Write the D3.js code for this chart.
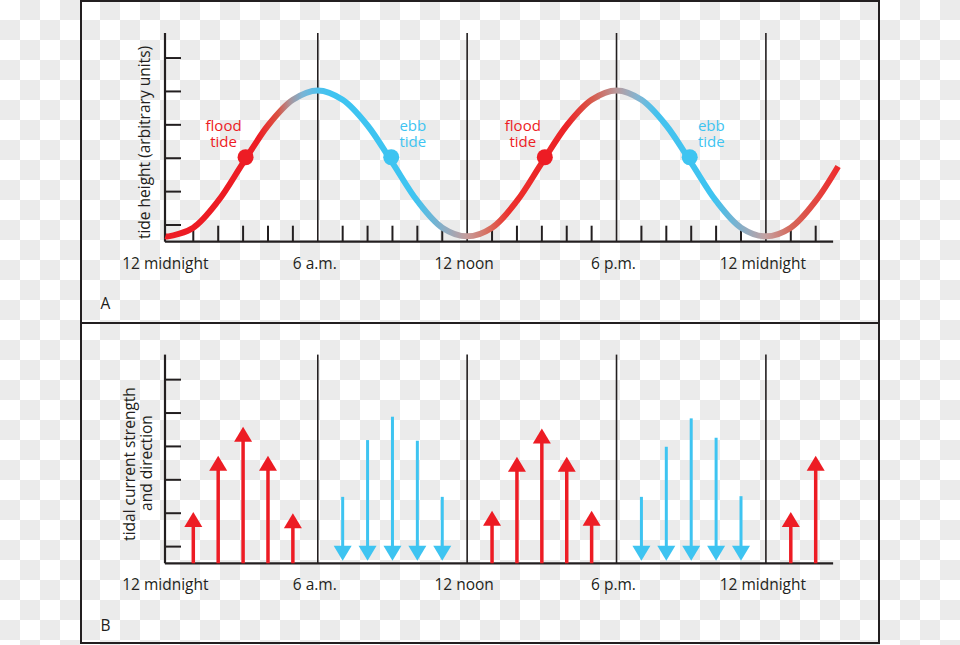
<!DOCTYPE html>
<html><head><meta charset="utf-8">
<script src="https://cdn.jsdelivr.net/npm/d3@7"></script>
<style>
html,body{margin:0;padding:0;}
body{width:960px;height:645px;background:#fff repeating-conic-gradient(#ebebeb 0 25%, #ffffff 0 50%) 0 0/40px 40px;}
svg{display:block;}
text{font-family:"Open Sans",sans-serif;}
</style></head><body>
<script>
// ---- data ----
const tideHours   = [-0.12, 0, 1, 2, 3, 4, 5, 6, 7, 8, 9, 10, 11, 12, 13, 14, 15, 16, 17, 18, 19, 20, 21, 22, 23, 24, 25, 26, 26.9];
const tideHeights = [0.17, 0.16, 0.42, 1.22, 2.36, 3.48, 4.25, 4.53, 4.25, 3.48, 2.36, 1.22, 0.42, 0.16, 0.42, 1.22, 2.36, 3.48, 4.25, 4.53, 4.25, 3.48, 2.36, 1.22, 0.42, 0.16, 0.42, 1.22, 2.25];
const markerHours   = [3.1, 8.95, 15.12, 20.94];
const markerHeights = [2.53, 2.53, 2.53, 2.53];
const markerKinds   = ["flood", "ebb", "flood", "ebb"];
const currentHours  = [1, 2, 3, 4, 5, 7, 8, 9, 10, 11, 13, 14, 15, 16, 17, 19, 20, 21, 22, 23, 25, 26];
const currentValues = [1.54, 3.22, 4.09, 3.22, 1.50, -1.99, -3.69, -4.39, -3.67, -1.99, 1.57, 3.19, 4.04, 3.19, 1.57, -1.99, -3.49, -4.34, -3.76, -2.01, 1.54, 3.22];
const timeLabelHours = [0, 6, 12, 18, 24];
const timeLabels     = ["12 midnight", "6 a.m.", "12 noon", "6 p.m.", "12 midnight"];
const sixHourLines   = [6, 12, 18, 24];
const minorHours     = [1, 2, 3, 4, 5, 7, 8, 9, 10, 11, 13, 14, 15, 16, 17, 19, 20, 21, 22, 23, 25, 26];
const yTickValues    = [0.5, 1.5, 2.5, 3.5, 4.5, 5.5];

// ---- style ----
const ink = "#231f20", red = "#ed1c24", blue = "#3ec4f1";
const fs = 15.5;
const gradStops = [
  [-0.2, "#ed1c24"], [3.6, "#ed1c24"], [4.4, "#da5444"], [4.9, "#a8959c"], [5.4, "#78b4d6"], [6.0, "#4fc0ec"], [6.6, "#3ec4f1"],
  [9.9, "#3ec4f1"], [10.9, "#7fb0cc"], [12.0, "#c79c9b"], [12.9, "#d96a5a"], [13.7, "#ec2e2b"],
  [16.0, "#ec2428"], [17.0, "#d85a4c"], [18.0, "#b9999c"], [18.9, "#80b6d4"], [19.6, "#45c2ee"],
  [21.9, "#3ec4f1"], [22.9, "#7fb0cc"], [24.0, "#c4a0a0"], [25.0, "#d6685a"], [26.9, "#ee2a2b"]
];

const svg = d3.select("body").append("svg").attr("width", 960).attr("height", 645);

const x = d3.scaleLinear().domain([0, 24]).range([168.4, 765.9]);
const axisX = d3.scaleLinear().domain([-0.14, 26.7]).range([x(-0.14), x(26.7)]);
const yA = d3.scaleLinear().domain([0, 6.25]).range([241.7, 33]);
const yB = d3.scaleLinear().domain([0, 6.25]).range([563.3, 354.6]);

// panel frames
svg.append("rect").attr("x", 81).attr("y", 1).attr("width", 798).attr("height", 322)
  .attr("fill", "none").attr("stroke", ink).attr("stroke-width", 2);
svg.append("rect").attr("x", 81).attr("y", 323).attr("width", 798).attr("height", 320)
  .attr("fill", "none").attr("stroke", ink).attr("stroke-width", 2);

function drawFrame(y, hourTicks, labelY) {
  const g = svg.append("g");
  g.selectAll("line.six").data(sixHourLines).join("line").attr("class", "six")
    .attr("x1", d => x(d)).attr("x2", d => x(d)).attr("y1", y(6.25)).attr("y2", y(0))
    .attr("stroke", ink).attr("stroke-width", 1.6);
  const ya = g.append("g").attr("transform", "translate(165,0)").attr("color", ink)
    .call(d3.axisRight(y).tickValues(yTickValues).tickSize(16).tickSizeOuter(0).tickFormat("").offset(0));
  ya.select(".domain").attr("stroke-width", 2.2);
  ya.selectAll(".tick line").attr("stroke-width", 2);
  const xa = g.append("g").attr("transform", `translate(0,${y(0)})`).attr("color", ink)
    .call(d3.axisTop(axisX).tickValues(hourTicks ? minorHours : []).tickSize(16).tickSizeOuter(0).tickFormat("").offset(0));
  xa.select(".domain").attr("stroke-width", 2.2);
  xa.selectAll(".tick line").attr("stroke-width", 2);
  g.selectAll("text.tl").data(timeLabels).join("text").attr("class", "tl")
    .attr("x", (d, i) => x(timeLabelHours[i]) - 3).attr("y", labelY)
    .attr("text-anchor", "middle").attr("font-size", fs).attr("fill", ink).text(d => d);
  return g;
}

// ---- Panel A ----
drawFrame(yA, true, 268.5);

const defs = svg.append("defs");
const gx1 = x(-0.2), gx2 = x(27);
const grad = defs.append("linearGradient").attr("id", "tideGrad")
  .attr("gradientUnits", "userSpaceOnUse").attr("x1", gx1).attr("x2", gx2).attr("y1", 0).attr("y2", 0);
grad.selectAll("stop").data(gradStops).join("stop")
  .attr("offset", d => (x(d[0]) - gx1) / (gx2 - gx1)).attr("stop-color", d => d[1]);

const tideLine = d3.line()
  .x(i => x(tideHours[i])).y(i => yA(tideHeights[i]))
  .curve(d3.curveCatmullRom.alpha(0.5));
svg.append("path").attr("d", tideLine(d3.range(tideHours.length)))
  .attr("fill", "none").attr("stroke", "url(#tideGrad)").attr("stroke-width", 6);

svg.selectAll("circle.marker").data(markerHours).join("circle").attr("class", "marker")
  .attr("cx", d => x(d)).attr("cy", (d, i) => yA(markerHeights[i])).attr("r", 8)
  .attr("fill", (d, i) => markerKinds[i] === "flood" ? red : blue);

const mLabels = svg.selectAll("text.mlab").data(markerHours).join("text").attr("class", "mlab")
  .attr("text-anchor", "middle").attr("font-size", 15)
  .attr("fill", (d, i) => markerKinds[i] === "flood" ? red : blue);
mLabels.each(function (d, i) {
  const cx = x(d) + (markerKinds[i] === "flood" ? -22 : 21.6);
  const cy = yA(markerHeights[i]);
  const t = d3.select(this);
  t.append("tspan").attr("x", cx).attr("y", cy - 26.5).text(markerKinds[i]);
  t.append("tspan").attr("x", cx).attr("y", cy - 10.5).text("tide");
});

svg.append("text").attr("transform", "translate(150,142.5) rotate(-90)")
  .attr("text-anchor", "middle").attr("font-size", fs).attr("fill", ink)
  .text("tide height (arbitrary units)");
svg.append("text").attr("x", 100.5).attr("y", 309).attr("font-size", fs).attr("fill", ink).text("A");

// ---- Panel B ----
drawFrame(yB, false, 590);

const arrows = svg.append("g");
currentHours.forEach((h, i) => {
  const v = currentValues[i];
  const cx = x(h);
  if (v > 0) {
    const tip = yB(v);
    arrows.append("line").attr("x1", cx).attr("x2", cx).attr("y1", yB(0)).attr("y2", tip + 12)
      .attr("stroke", red).attr("stroke-width", 3.5);
    arrows.append("path").attr("d", `M${cx},${tip}L${cx + 9},${tip + 15}L${cx - 9},${tip + 15}Z`).attr("fill", red);
  } else {
    const tail = yB(-v);
    const tip = yB(0) - 2.5;
    arrows.append("line").attr("x1", cx).attr("x2", cx).attr("y1", tail).attr("y2", tip - 12)
      .attr("stroke", blue).attr("stroke-width", 3);
    arrows.append("path").attr("d", `M${cx},${tip}L${cx + 9},${tip - 15}L${cx - 9},${tip - 15}Z`).attr("fill", blue);
  }
});

svg.append("text").attr("transform", "translate(135,464) rotate(-90)")
  .attr("text-anchor", "middle").attr("font-size", fs).attr("fill", ink)
  .text("tidal current strength");
svg.append("text").attr("transform", "translate(151.5,463) rotate(-90)")
  .attr("text-anchor", "middle").attr("font-size", fs).attr("fill", ink)
  .text("and direction");
svg.append("text").attr("x", 100.5).attr("y", 631).attr("font-size", fs).attr("fill", ink).text("B");
</script>
</body></html>
